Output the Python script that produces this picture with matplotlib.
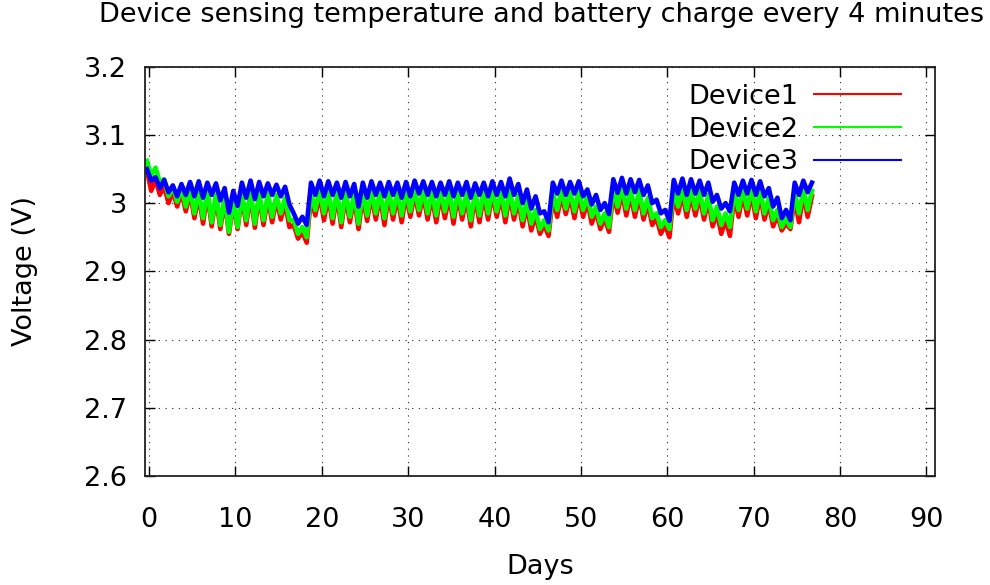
import numpy as np
import matplotlib
matplotlib.use("Agg")
import matplotlib.pyplot as plt

# readings are logged every 4 minutes; kept here as half-day peaks and troughs
start_day = -0.25
step_days = 0.5

device1 = [
    3.048, 3.018, 3.035, 3.012, 3.025, 3.000, 3.018, 2.995, 3.016, 2.988,
    3.015, 2.978, 3.012, 2.970, 3.014, 2.966, 3.010, 2.962, 3.004, 2.955,
    3.000, 2.962, 3.010, 2.968, 3.012, 2.964, 3.010, 2.968, 3.008, 2.972,
    3.006, 2.976, 3.000, 2.965, 2.968, 2.948, 2.958, 2.942, 3.008, 2.982,
    3.012, 2.975, 3.010, 2.970, 3.012, 2.965, 3.010, 2.972, 3.008, 2.962,
    3.010, 2.974, 3.012, 2.976, 3.010, 2.968, 3.012, 2.976, 3.010, 2.972,
    3.012, 2.980, 3.014, 2.982, 3.012, 2.976, 3.010, 2.972, 3.012, 2.978,
    3.010, 2.970, 3.012, 2.976, 3.008, 2.966, 3.010, 2.972, 3.012, 2.976,
    3.014, 2.980, 3.010, 2.972, 3.012, 2.976, 3.004, 2.966, 2.996, 2.960,
    2.982, 2.955, 2.968, 2.952, 3.008, 2.980, 3.012, 2.984, 3.010, 2.978,
    3.012, 2.980, 3.002, 2.970, 2.988, 2.962, 2.978, 2.958, 3.014, 2.986,
    3.016, 2.982, 3.012, 2.980, 3.010, 2.976, 3.000, 2.968, 2.978, 2.955,
    2.968, 2.950, 3.012, 2.985, 3.014, 2.980, 3.012, 2.982, 3.010, 2.976,
    3.004, 2.966, 2.986, 2.955, 2.976, 2.952, 3.010, 2.980, 3.012, 2.982,
    3.014, 2.978, 3.012, 2.976, 3.000, 2.966, 2.982, 2.960, 2.970, 2.962,
    3.006, 2.972, 3.012, 2.980, 3.010,
]

device2 = [
    3.062, 3.040, 3.052, 3.030, 3.035, 3.010, 3.025, 3.002, 3.022, 2.995,
    3.020, 2.985, 3.018, 2.978, 3.020, 2.972, 3.016, 2.968, 3.010, 2.958,
    3.005, 2.965, 3.015, 2.975, 3.018, 2.970, 3.016, 2.975, 3.014, 2.980,
    3.012, 2.985, 3.008, 2.975, 2.975, 2.955, 2.965, 2.950, 3.015, 2.990,
    3.020, 2.985, 3.018, 2.978, 3.020, 2.972, 3.018, 2.980, 3.015, 2.970,
    3.018, 2.982, 3.020, 2.985, 3.018, 2.978, 3.020, 2.985, 3.018, 2.982,
    3.020, 2.988, 3.022, 2.990, 3.020, 2.985, 3.018, 2.982, 3.020, 2.988,
    3.018, 2.980, 3.020, 2.985, 3.015, 2.975, 3.018, 2.982, 3.020, 2.985,
    3.022, 2.988, 3.018, 2.982, 3.020, 2.985, 3.012, 2.975, 3.005, 2.970,
    2.990, 2.962, 2.975, 2.960, 3.015, 2.990, 3.020, 2.992, 3.018, 2.988,
    3.020, 2.990, 3.010, 2.980, 2.995, 2.970, 2.985, 2.965, 3.022, 2.995,
    3.024, 2.992, 3.020, 2.990, 3.018, 2.985, 3.008, 2.978, 2.985, 2.965,
    2.975, 2.962, 3.020, 2.995, 3.022, 2.990, 3.020, 2.992, 3.018, 2.985,
    3.012, 2.975, 2.995, 2.968, 2.985, 2.965, 3.018, 2.990, 3.020, 2.992,
    3.022, 2.988, 3.020, 2.985, 3.008, 2.975, 2.990, 2.965, 2.978, 2.965,
    3.015, 2.985, 3.020, 2.990, 3.018,
]

device3 = [
    3.050, 3.033, 3.038, 3.022, 3.034, 3.016, 3.026, 3.010, 3.028, 3.012,
    3.031, 3.010, 3.032, 3.008, 3.030, 3.012, 3.029, 3.004, 3.022, 2.986,
    3.018, 2.996, 3.030, 3.008, 3.033, 3.006, 3.031, 3.010, 3.029, 3.012,
    3.027, 3.010, 3.024, 2.998, 2.985, 2.970, 2.980, 2.968, 3.030, 3.012,
    3.033, 3.010, 3.032, 3.012, 3.030, 3.008, 3.031, 3.010, 3.028, 2.995,
    3.030, 3.008, 3.032, 3.012, 3.030, 3.010, 3.031, 3.012, 3.030, 3.008,
    3.031, 3.010, 3.033, 3.014, 3.032, 3.012, 3.031, 3.010, 3.030, 3.012,
    3.032, 3.010, 3.030, 3.012, 3.031, 3.008, 3.029, 3.012, 3.030, 3.010,
    3.032, 3.012, 3.031, 3.010, 3.036, 3.012, 3.028, 3.000, 3.020, 2.992,
    3.010, 2.985, 2.988, 2.972, 3.030, 3.014, 3.033, 3.012, 3.031, 3.014,
    3.032, 3.010, 3.020, 2.998, 3.012, 2.990, 3.000, 2.984, 3.035, 3.015,
    3.037, 3.014, 3.035, 3.016, 3.034, 3.012, 3.026, 3.000, 3.005, 2.985,
    2.990, 2.974, 3.034, 3.014, 3.036, 3.012, 3.035, 3.014, 3.033, 3.012,
    3.030, 3.002, 3.012, 2.992, 3.000, 2.988, 3.030, 3.012, 3.033, 3.014,
    3.034, 3.012, 3.032, 3.010, 3.022, 2.995, 3.008, 2.978, 2.990, 2.975,
    3.030, 3.012, 3.033, 3.016, 3.030,
]

labels = ["Device1", "Device2", "Device3"]
colors = ["#ff0000", "#00ff00", "#0000ff"]
x_ticks = [0, 10, 20, 30, 40, 50, 60, 70, 80, 90]
y_ticks = [2.6, 2.7, 2.8, 2.9, 3.0, 3.1, 3.2]
y_tick_labels = ["2.6", "2.7", "2.8", "2.9", "3", "3.1", "3.2"]

plt.rcParams["font.family"] = "DejaVu Sans"
FS = 19.5

fig = plt.figure(figsize=(9.9, 5.85), dpi=100)
ax = fig.add_axes([0.1462, 0.1863, 0.7983, 0.6997])

# dense 4-minute noise makes each trace look like a thick band
for series, label, color in zip([device1, device2, device3], labels, colors):
    days = start_day + step_days * np.arange(len(series))
    ax.plot(days, series, color=color, lw=3.3, solid_joinstyle="round")

ax.set_xlim(-0.5, 91)
ax.set_ylim(2.6, 3.2)
ax.set_xticks(x_ticks)
ax.set_yticks(y_ticks)
ax.set_yticklabels(y_tick_labels)
ax.tick_params(direction="in", length=7, width=1.0, labelsize=FS,
               top=True, right=True, color="black")
ax.tick_params(axis="x", pad=22)
ax.tick_params(axis="y", pad=13)
ax.grid(True, color="#222222", lw=0.8, linestyle=(0, (1, 5)))
for spine in ax.spines.values():
    spine.set_linewidth(1.3)
    spine.set_color("#222222")

ax.set_xlabel("Days", fontsize=FS, va="center")
ax.xaxis.set_label_coords(0.5, -(567 - 476) / 409)
ax.set_ylabel("Voltage (V)", fontsize=FS, va="center")
ax.yaxis.set_label_coords(-(145 - 25) / 790, 0.5)

fig.text(542 / 990, 1 - 15 / 585,
         "Device sensing temperature and battery charge every 4 minutes",
         fontsize=FS, ha="center", va="center")

legend_lines = [plt.Line2D([], [], color=c, lw=1.5) for c in colors]
ax.legend(legend_lines, labels, loc="upper right", bbox_to_anchor=(0.957, 0.958),
          frameon=False, markerfirst=False, borderaxespad=0, borderpad=0,
          handlelength=3.2, handletextpad=0.6, labelspacing=0.25, fontsize=FS)

fig.savefig("out.png", dpi=100)
